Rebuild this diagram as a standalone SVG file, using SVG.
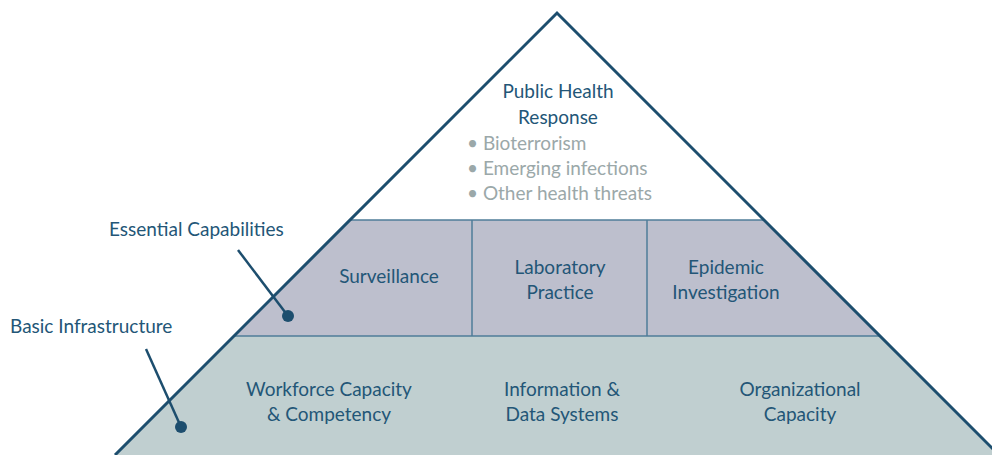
<svg xmlns="http://www.w3.org/2000/svg" width="992" height="455" viewBox="0 0 992 455">
<style>
text{font-family:Lato,"Open Sans","Liberation Sans",sans-serif;font-size:19px;fill:#235677}
.c{text-anchor:middle}
.g{fill:#9ba8a9}
.band{stroke:#4f7d98;stroke-width:1.5}
.lead{stroke:#1d4e6e;stroke-width:2.5;fill:none}
.dot{fill:#1d4e6e}
</style>
<rect width="992" height="455" fill="#ffffff"/>
<g id="bottom-tier">
<polygon points="234,336 880,336 999,455 115,455" fill="#c0cfd0"/>
</g>
<g id="middle-tier">
<polygon points="350,220 764,220 880,336 234,336" fill="#bdbfcd"/>
<line class="band" x1="472" y1="220" x2="472" y2="336"/>
<line class="band" x1="647" y1="220" x2="647" y2="336"/>
<line class="band" x1="350" y1="220" x2="764" y2="220"/>
<line class="band" x1="234" y1="336" x2="880" y2="336"/>
</g>
<g id="outline">
<polyline points="115,455 557,13 999,455" fill="none" stroke="#1d4e6e" stroke-width="3"/>
</g>
<g id="top-tier">
<text class="c" x="558" y="98">Public Health</text>
<text class="c" x="558" y="124">Response</text>
<text class="g" x="467" y="150">• Bioterrorism</text>
<text class="g" x="467" y="175">• Emerging infections</text>
<text class="g" x="467" y="200">• Other health threats</text>
</g>
<g id="surveillance"><text class="c" x="389" y="283">Surveillance</text></g>
<g id="laboratory"><text class="c" x="560" y="274">Laboratory</text><text class="c" x="560" y="299">Practice</text></g>
<g id="epidemic"><text class="c" x="726" y="274">Epidemic</text><text class="c" x="726" y="299">Investigation</text></g>
<g id="workforce"><text class="c" x="329" y="396">Workforce Capacity</text><text class="c" x="329" y="421">&amp; Competency</text></g>
<g id="information"><text class="c" x="562" y="396">Information &amp;</text><text class="c" x="562" y="421">Data Systems</text></g>
<g id="organizational"><text class="c" x="800" y="396">Organizational</text><text class="c" x="800" y="421">Capacity</text></g>
<g id="label-essential"><text x="109" y="236">Essential Capabilities</text></g>
<g id="label-basic"><text x="10" y="333">Basic Infrastructure</text></g>
<g id="connectors">
<line class="lead" x1="238" y1="250" x2="288" y2="316"/>
<circle class="dot" cx="288" cy="316" r="6"/>
<line class="lead" x1="146" y1="349" x2="181" y2="427"/>
<circle class="dot" cx="181" cy="427" r="6"/>
</g>
</svg>
